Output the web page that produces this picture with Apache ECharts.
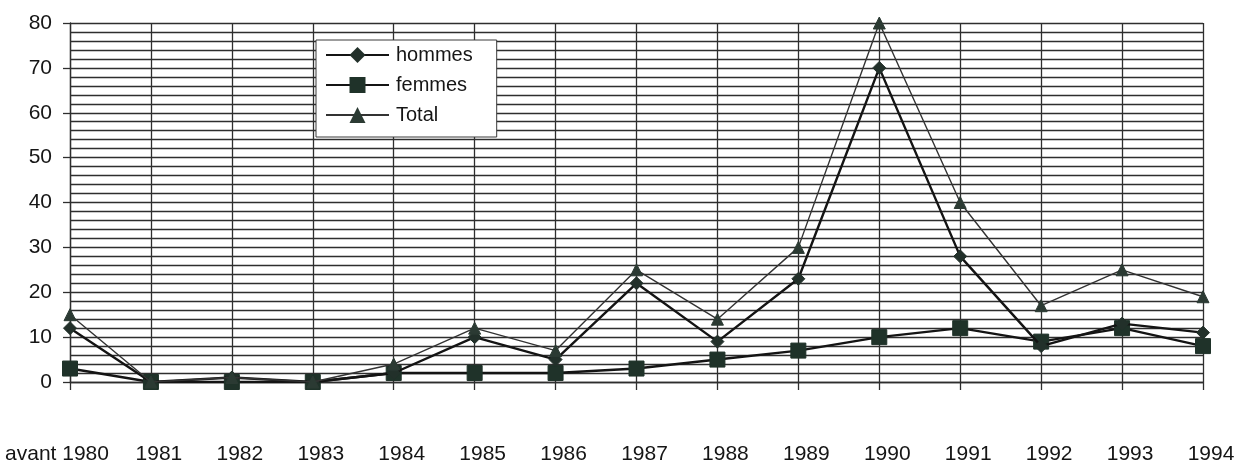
<!DOCTYPE html>
<html>
<head>
<meta charset="utf-8">
<script src="https://cdn.jsdelivr.net/npm/echarts@6/dist/echarts.min.js"></script>
<style>
  html, body { margin: 0; padding: 0; background: #ffffff; }
  #chart { width: 1246px; height: 465px; }
</style>
</head>
<body>
<div id="chart"></div>
<script>
// Categories along the horizontal axis
var years = ['avant 1980', '1981', '1982', '1983', '1984', '1985', '1986', '1987',
             '1988', '1989', '1990', '1991', '1992', '1993', '1994'];

// Counts per year
var hommes = [12, 0, 1, 0, 2, 10, 5, 22, 9, 23, 70, 28, 8, 13, 11];
var femmes = [3, 0, 0, 0, 2, 2, 2, 3, 5, 7, 10, 12, 9, 12, 8];
var total  = [15, 0, 1, 0, 4, 12, 7, 25, 14, 30, 80, 40, 17, 25, 19];

var FONT = '"Liberation Sans", Arial, sans-serif';
var INK = '#151515';
var GRID = '#2e2e2e';

var chart = echarts.init(document.getElementById('chart'), null, { renderer: 'canvas' });

var labelText = { fontFamily: FONT, fontSize: 21, color: INK };

chart.setOption({
  backgroundColor: '#ffffff',
  animation: false,
  grid: { left: 70, right: 43, top: 23, bottom: 83, containLabel: false },
  legend: {
    orient: 'vertical',
    left: 316,
    top: 40,
    padding: [5, 24, 12, 9],
    itemWidth: 63,
    itemHeight: 20,
    itemGap: 10,
    backgroundColor: '#ffffff',
    borderColor: '#3a3a3a',
    borderWidth: 1,
    textStyle: { fontFamily: FONT, fontSize: 20, color: INK, padding: [0, 0, 0, 2] },
    data: ['hommes', 'femmes', 'Total']
  },
  xAxis: {
    type: 'category',
    data: years,
    boundaryGap: false,
    axisLine: { show: true, lineStyle: { color: GRID, width: 1.3 } },
    axisTick: { show: true, interval: 0, length: 8, lineStyle: { color: GRID, width: 1.3 } },
    axisLabel: {
      interval: 0,
      margin: 62,
      fontFamily: FONT,
      fontSize: 21,
      color: INK,
      // first label sits flush with the left edge, the years slightly right of their tick
      formatter: function (v, i) { return (i === 0 ? '{first|' : '{year|') + v + '}'; },
      rich: {
        first: Object.assign({ padding: [0, 26, 0, 0] }, labelText),
        year: Object.assign({ padding: [0, 0, 0, 16] }, labelText)
      }
    },
    splitLine: { show: true, interval: 0, lineStyle: { color: GRID, width: 1.3 } }
  },
  yAxis: {
    type: 'value',
    min: 0,
    max: 80,
    interval: 10,
    axisLine: { show: true, lineStyle: { color: GRID, width: 1.3 } },
    axisTick: { show: true, length: 7, lineStyle: { color: GRID, width: 1.3 } },
    axisLabel: { margin: 18, fontFamily: FONT, fontSize: 21, color: INK },
    splitLine: { show: true, lineStyle: { color: GRID, width: 1.3 } },
    minorTick: { show: false, splitNumber: 5 },
    minorSplitLine: { show: true, lineStyle: { color: GRID, width: 1.3 } }
  },
  series: [
    {
      name: 'hommes',
      type: 'line',
      data: hommes,
      symbol: 'diamond',
      symbolSize: 13,
      z: 4,
      lineStyle: { color: '#141414', width: 2.4 },
      itemStyle: { color: '#22302a', borderColor: '#22302a' }
    },
    {
      name: 'femmes',
      type: 'line',
      data: femmes,
      symbol: 'rect',
      symbolSize: 15,
      z: 3,
      lineStyle: { color: '#141414', width: 2.4 },
      itemStyle: { color: '#1f3229', borderColor: '#1f3229' }
    },
    {
      name: 'Total',
      type: 'line',
      data: total,
      symbol: 'triangle',
      symbolSize: 12,
      z: 5,
      lineStyle: { color: '#333333', width: 1.4 },
      itemStyle: { color: '#2b3a33', borderColor: '#2b3a33' }
    }
  ]
});
</script>
</body>
</html>
